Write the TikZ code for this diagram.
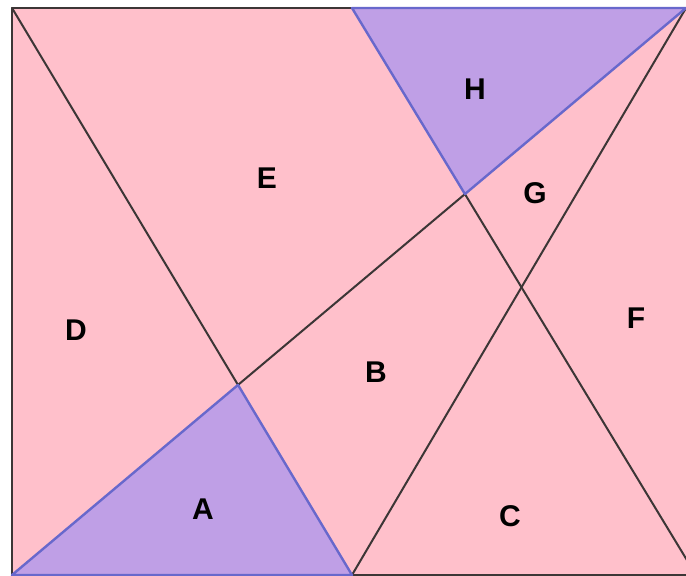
\documentclass[tikz,border=0pt]{standalone}
\usepackage{fontspec}
\setmainfont{Liberation Sans}
\usetikzlibrary{calc}
\definecolor{tanPink}{HTML}{FFC0CB}
\definecolor{tanPurple}{HTML}{BF9FE6}
\definecolor{tanBlue}{HTML}{6868CC}
\definecolor{tanInk}{HTML}{3C3636}
\begin{document}
\begin{tikzpicture}[x=1pt,y=-1pt,line cap=round,line join=round]
\useasboundingbox (0,0) rectangle (686,576);
\path[fill=white] (0,0) rectangle (686,576);
\tikzset{cut/.style={draw=tanInk,line width=2pt},edge/.style={draw=tanBlue,line width=2.4pt},piece/.style={fill=tanPurple},lbl/.style={font=\fontsize{30}{32}\selectfont\bfseries,text=black}}
\clip (0,0) rectangle (686,576);
\coordinate (TL) at (12,8); \coordinate (M) at (352,8); \coordinate (TR) at (686,8);
\coordinate (BL) at (12,575); \coordinate (N) at (352,575); \coordinate (BR) at (696,575);
\coordinate (P) at (intersection of TL--N and BL--TR);
\coordinate (Q) at (intersection of BL--TR and M--BR);
\path[fill=tanPink] (TL) rectangle (BR);
\path[piece] (BL) -- (P) -- (N) -- cycle;
\path[piece] (M) -- (TR) -- (Q) -- cycle;
\draw[cut] (M) -- (TL) -- (BL); \draw[cut] (N) -- (BR);
\draw[cut] (TL) -- (P); \draw[cut] (P) -- (Q); \draw[cut] (Q) -- (BR); \draw[cut] (N) -- (TR);
\draw[edge] (BL) -- (P) -- (N) -- cycle;
\draw[edge] (M) -- (TR) -- (Q) -- cycle;
\node[lbl] (a) at (203,509) {A};
\node[lbl] (b) at (376,372) {B};
\node[lbl] (c) at (510,516) {C};
\node[lbl] (d) at (76,330) {D};
\node[lbl] (e) at (267,178) {E};
\node[lbl] (f) at (636,318) {F};
\node[lbl] (g) at (535,193) {G};
\node[lbl] (h) at (475,89) {H};
\end{tikzpicture}
\end{document}
